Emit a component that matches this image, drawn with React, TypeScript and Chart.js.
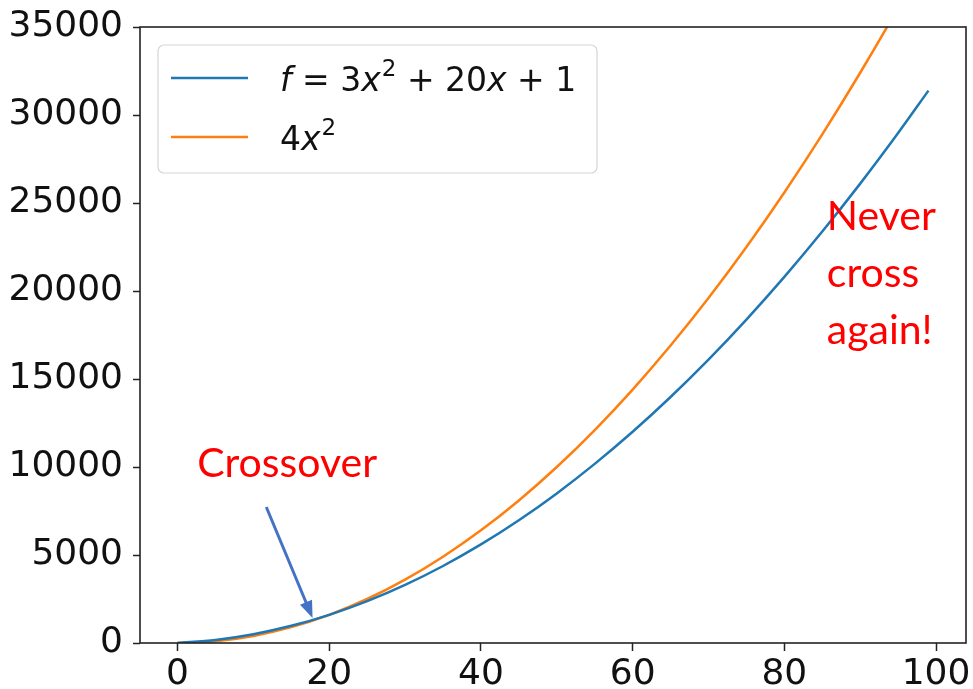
import React, { useEffect, useRef } from "react";
import { Chart, registerables } from "chart.js";

Chart.register(...registerables);

// ---- data ----
const xValues = [0, 5, 10, 15, 20, 25, 30, 35, 40, 45, 50, 55, 60, 65, 70, 75, 80, 85, 90, 95, 99];
const seriesF = [1, 176, 501, 976, 1601, 2376, 3301, 4376, 5601, 6976, 8501, 10176, 12001, 13976, 16101, 18376, 20801, 23376, 26101, 28976, 31384];
const series4x2 = [0, 100, 400, 900, 1600, 2500, 3600, 4900, 6400, 8100, 10000, 12100, 14400, 16900, 19600, 22500, 25600, 28900, 32400, 36100, 39204];
const xTicks = [0, 20, 40, 60, 80, 100];
const yTicks = [0, 5000, 10000, 15000, 20000, 25000, 30000, 35000];
const seriesColors = ["#1f77b4", "#ff7f0e"];

// legend labels as math-text segments: [text, style] where style: r = roman, i = italic, s = superscript
const legendF: [string, string][] = [["f", "i"], [" = 3", "r"], ["x", "i"], ["2", "s"], [" + 20", "r"], ["x", "i"], [" + 1", "r"]];
const legend4x2: [string, string][] = [["4", "r"], ["x", "i"], ["2", "s"]];
const crossoverText = "Crossover";
const neverLines = ["Never", "cross", "again!"];

const TICK_FONT = "DejaVu Sans";
const ANNOT_FONT = "Lato";

function drawMath(ctx: CanvasRenderingContext2D, segs: [string, string][], x: number, y: number, size: number) {
  let cx = x;
  for (const [t, s] of segs) {
    if (s === "s") {
      ctx.font = `${Math.round(size * 0.7)}px "${TICK_FONT}"`;
      ctx.fillText(t, cx + 1, y - size * 0.45);
      cx += ctx.measureText(t).width + 1;
    } else {
      ctx.font = `${s === "i" ? "oblique " : ""}${size}px "${TICK_FONT}"`;
      ctx.fillText(t, cx, y);
      cx += ctx.measureText(t).width;
    }
  }
}

const overlayPlugin = {
  id: "overlay",
  afterDatasetsDraw(chart: any) {
    const { ctx, chartArea } = chart;
    ctx.save();
    ctx.strokeStyle = "#222";
    ctx.lineWidth = 1.6;
    ctx.strokeRect(chartArea.left, chartArea.top, chartArea.right - chartArea.left, chartArea.bottom - chartArea.top);
    ctx.restore();
  },
  afterDraw(chart: any) {
    const { ctx, chartArea, scales } = chart;
    const xs = scales.x;
    const ys = scales.y;
    ctx.save();
    // legend box
    const bx = chartArea.left + 18;
    const by = chartArea.top + 18;
    const bw = 439;
    const bh = 128;
    const r = 6;
    ctx.beginPath();
    ctx.moveTo(bx + r, by);
    ctx.arcTo(bx + bw, by, bx + bw, by + bh, r);
    ctx.arcTo(bx + bw, by + bh, bx, by + bh, r);
    ctx.arcTo(bx, by + bh, bx, by, r);
    ctx.arcTo(bx, by, bx + bw, by, r);
    ctx.closePath();
    ctx.fillStyle = "rgba(255,255,255,0.85)";
    ctx.fill();
    ctx.strokeStyle = "#d6d6d6";
    ctx.lineWidth = 1.2;
    ctx.stroke();

    const rows = [legendF, legend4x2];
    rows.forEach((segs, i) => {
      const ly = by + 33 + i * 59;
      ctx.strokeStyle = seriesColors[i];
      ctx.lineWidth = 2.5;
      ctx.beginPath();
      ctx.moveTo(bx + 13, ly);
      ctx.lineTo(bx + 90, ly);
      ctx.stroke();
      ctx.fillStyle = "#111";
      ctx.textBaseline = "alphabetic";
      ctx.textAlign = "left";
      drawMath(ctx, segs, bx + 122, ly + 13, 33);
    });

    // Crossover annotation
    ctx.fillStyle = "#ff0000";
    ctx.font = `41px "${ANNOT_FONT}"`;
    ctx.textAlign = "left";
    ctx.textBaseline = "alphabetic";
    ctx.fillText(crossoverText, xs.getPixelForValue(2.6), ys.getPixelForValue(9430));

    // arrow
    const x0 = xs.getPixelForValue(11.7), y0 = ys.getPixelForValue(7730);
    const x1 = xs.getPixelForValue(17.8), y1 = ys.getPixelForValue(1420);
    const ang = Math.atan2(y1 - y0, x1 - x0);
    const head = 17;
    ctx.strokeStyle = "#4472c4";
    ctx.fillStyle = "#4472c4";
    ctx.lineWidth = 3;
    ctx.beginPath();
    ctx.moveTo(x0, y0);
    ctx.lineTo(x1 - Math.cos(ang) * head * 0.8, y1 - Math.sin(ang) * head * 0.8);
    ctx.stroke();
    ctx.beginPath();
    ctx.moveTo(x1, y1);
    ctx.lineTo(x1 - head * Math.cos(ang) + 6.5 * Math.sin(ang), y1 - head * Math.sin(ang) - 6.5 * Math.cos(ang));
    ctx.lineTo(x1 - head * Math.cos(ang) - 6.5 * Math.sin(ang), y1 - head * Math.sin(ang) + 6.5 * Math.cos(ang));
    ctx.closePath();
    ctx.fill();

    // Never cross again!
    ctx.fillStyle = "#ff0000";
    ctx.font = `41px "${ANNOT_FONT}"`;
    const nx = xs.getPixelForValue(85.6);
    const ny = ys.getPixelForValue(23470);
    neverLines.forEach((t, i) => ctx.fillText(t, nx, ny + i * 57));
    ctx.restore();
  },
};

export default function App() {
  const ref = useRef<HTMLCanvasElement | null>(null);
  useEffect(() => {
    document.body.style.margin = "0";
    const canvas = ref.current;
    if (!canvas) return;
    const chart = new Chart(canvas, {
      type: "line",
      data: {
        datasets: [
          {
            label: "f = 3x^2 + 20x + 1",
            data: xValues.map((x, i) => ({ x, y: seriesF[i] })),
            borderColor: seriesColors[0],
            borderWidth: 2.5,
            pointRadius: 0,
            cubicInterpolationMode: "monotone",
            fill: false,
          },
          {
            label: "4x^2",
            data: xValues.map((x, i) => ({ x, y: series4x2[i] })),
            borderColor: seriesColors[1],
            borderWidth: 2.5,
            pointRadius: 0,
            cubicInterpolationMode: "monotone",
            fill: false,
          },
        ],
      },
      options: {
        animation: false,
        responsive: false,
        layout: { padding: { top: 27, right: 7, left: 0, bottom: 0 } },
        plugins: { legend: { display: false }, tooltip: { enabled: false } },
        scales: {
          x: {
            type: "linear",
            min: -4.95,
            max: 103.95,
            afterBuildTicks: (s: any) => {
              s.ticks = xTicks.map((v) => ({ value: v }));
            },
            afterFit: (s: any) => {
              s.height = 46;
              s.paddingLeft = 0;
              s.paddingRight = 0;
            },
            grid: { drawOnChartArea: false, drawTicks: true, tickLength: 8, tickColor: "#222", tickWidth: 1.5 },
            border: { display: false },
            ticks: { font: { family: TICK_FONT, size: 36 }, color: "#111", padding: 2, maxRotation: 0, autoSkip: false },
          },
          y: {
            type: "linear",
            min: 0,
            max: 35000,
            afterBuildTicks: (s: any) => {
              s.ticks = yTicks.map((v) => ({ value: v }));
            },
            afterFit: (s: any) => {
              s.width = 140;
              s.paddingTop = 0;
              s.paddingBottom = 0;
            },
            grid: { drawOnChartArea: false, drawTicks: true, tickLength: 7, tickColor: "#222", tickWidth: 1.5 },
            border: { display: false },
            ticks: { font: { family: TICK_FONT, size: 36 }, color: "#111", padding: 10, autoSkip: false, callback: (v: any) => String(v) },
          },
        },
      },
      plugins: [overlayPlugin],
    } as any);
    return () => chart.destroy();
  }, []);
  return (
    <div style={{ position: "relative", width: 973, height: 689 }}>
      <canvas ref={ref} width={973} height={689} />
    </div>
  );
}
